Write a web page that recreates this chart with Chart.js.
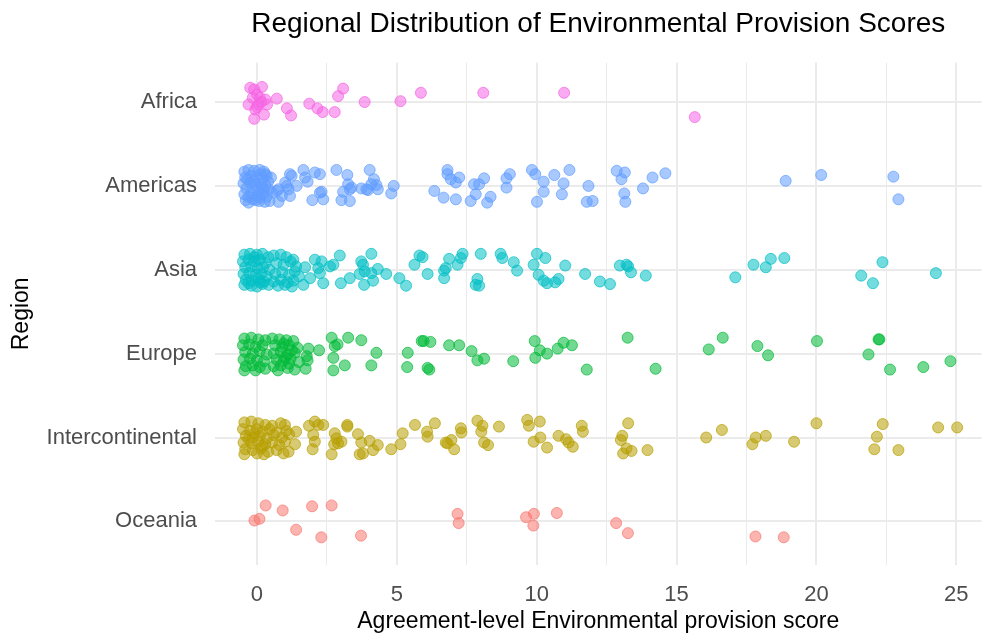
<!DOCTYPE html>
<html>
<head>
<meta charset="utf-8">
<script src="https://cdn.jsdelivr.net/npm/chart.js@4"></script>
<style>
  html, body { margin: 0; padding: 0; background: #fff; }
  #wrap { width: 988px; height: 637px; }
</style>
</head>
<body>
<div id="wrap"><canvas id="chart" width="988" height="637"></canvas></div>
<script>
// regions top to bottom, and their ggplot hue colours
const regions = ['Africa', 'Americas', 'Asia', 'Europe', 'Intercontinental', 'Oceania'];
const regionColors = ['#F564E3', '#619CFF', '#00BFC4', '#00BA38', '#B79F00', '#F8766D'];
const xTicks = [0, 5, 10, 15, 20, 25];

// [score, vertical jitter]
const africa = [[-0.24,0.17],[0.18,0.18],[-0.1,0.15],[0.0,0.09],[0.1,0.05],[0.3,0.03],[-0.3,-0.03],[-0.06,-0.09],
  [0.05,-0.03],[0.36,-0.03],[-0.1,-0.2],[0.25,-0.15],[0.0,-0.06],[0.15,0.0],[-0.15,0.05],[0.71,0.04],[1.07,-0.075],
  [1.22,-0.16],[1.87,-0.02],[2.16,-0.075],[2.35,-0.12],[2.78,-0.12],[2.9,0.07],[3.08,0.16],[3.85,0.0],[5.13,0.01],
  [5.86,0.11],[8.09,0.11],[10.98,0.11],[15.65,-0.18]];

const americas = [[-0.45,0.17],[-0.3,0.19],[-0.1,0.18],[0.1,0.19],[0.25,0.17],[0.35,0.12],[-0.42,0.1],[-0.2,0.12],
  [0.0,0.1],[0.2,0.08],[0.4,0.05],[-0.48,0.03],[-0.25,0.04],[-0.05,0.02],[0.15,0.01],[0.3,0.0],[-0.38,-0.03],
  [-0.15,-0.02],[0.05,-0.05],[0.25,-0.06],[0.42,-0.04],[-0.45,-0.1],[-0.22,-0.09],[0.0,-0.12],[0.18,-0.1],
  [0.35,-0.13],[-0.4,-0.17],[-0.15,-0.16],[0.08,-0.18],[0.28,-0.19],[-0.3,-0.2],[0.45,-0.18],[0.12,0.14],
  [-0.35,0.08],[0.5,0.1],[0.55,-0.08],[-0.1,0.06],[0.1,-0.14],[-0.3,-0.13],[0.3,0.14],[-0.05,-0.17],[0.2,-0.02],
  [0.71,-0.06],[0.77,-0.04],[0.89,-0.12],[0.77,-0.19],[1.01,0.04],[1.07,0.0],[1.13,-0.04],[1.18,-0.12],[1.18,0.14],
  [1.24,0.12],[1.42,0.0],[1.66,0.19],[1.72,0.1],[1.81,0.05],[2.07,0.16],[2.25,0.14],[1.98,-0.17],[2.25,-0.08],
  [2.31,-0.07],[2.37,-0.16],[2.84,0.19],[3.23,0.13],[3.26,0.02],[3.32,-0.04],[3.08,-0.07],[3.02,-0.17],[3.32,-0.18],
  [3.38,-0.02],[3.73,-0.03],[3.91,-0.04],[4.03,0.19],[4.18,0.08],[4.09,0.02],[4.27,0.01],[4.32,-0.04],[3.97,-0.05],
  [4.8,-0.09],[4.89,0.0],[6.34,-0.06],[6.67,-0.14],[6.81,0.19],[6.81,0.14],[6.93,0.08],[7.11,0.04],[7.23,0.1],
  [7.11,-0.16],[7.64,-0.18],[7.76,0.02],[7.94,0.02],[8.12,0.09],[7.82,-0.1],[8.23,-0.2],[8.35,-0.13],[8.92,-0.02],
  [8.92,0.09],[9.04,0.14],[9.83,0.19],[9.95,0.14],[10.25,0.05],[10.25,-0.07],[10.01,-0.19],[10.63,0.13],
  [10.96,0.03],[10.9,-0.1],[11.17,0.19],[11.85,0.0],[11.79,-0.19],[12.0,-0.18],
  [12.86,0.18],[13.15,0.16],[13.03,0.08],[13.13,-0.09],[13.17,-0.19],[13.8,-0.03],[14.14,0.1],[14.6,0.15],
  [18.9,0.06],[20.17,0.13],[22.75,0.11],[22.93,-0.16]];

const asia = [[-0.45,0.18],[-0.25,0.19],[0.0,0.18],[0.2,0.19],[0.4,0.15],[-0.5,0.1],[-0.3,0.12],[-0.1,0.1],
  [0.1,0.12],[0.3,0.08],[-0.42,0.03],[-0.2,0.04],[0.02,0.02],[0.22,0.03],[0.45,0.0],[-0.48,-0.05],[-0.28,-0.04],
  [-0.05,-0.06],[0.15,-0.05],[0.35,-0.08],[-0.4,-0.12],[-0.18,-0.13],[0.05,-0.11],[0.25,-0.14],[-0.45,-0.18],
  [-0.2,-0.19],[0.0,-0.2],[0.2,-0.17],[0.42,-0.18],[-0.1,0.15],[0.12,-0.15],[-0.3,-0.16],
  [0.6,0.17],[0.85,0.18],[1.05,0.15],[1.3,0.12],[0.7,0.08],[0.95,0.06],[1.2,0.1],[1.4,0.04],[0.65,-0.05],
  [0.9,-0.03],[1.15,-0.06],[1.35,-0.02],[0.6,-0.14],[0.85,-0.12],[1.1,-0.15],[1.3,-0.13],[0.75,-0.19],[1.0,-0.18],
  [1.25,-0.2],[1.5,-0.08],
  [1.72,0.03],[1.66,-0.18],[1.9,-0.1],[2.07,0.12],[2.19,0.02],[2.31,0.1],[2.25,-0.04],[2.37,-0.16],[2.61,0.04],
  [2.73,0.06],[2.96,0.17],[3.0,-0.16],[3.32,-0.1],[3.67,-0.05],[3.73,0.1],[3.79,0.06],[3.83,-0.18],[3.85,-0.02],
  [4.09,0.19],[4.09,-0.04],[4.15,-0.13],[4.32,0.01],[4.62,-0.05],[5.09,-0.1],[5.33,-0.19],[5.63,0.06],[5.81,0.17],
  [5.92,0.15],[6.1,-0.05],[6.69,-0.01],[6.69,-0.1],[6.75,0.02],[6.87,0.13],[7.17,0.06],[7.29,0.14],[7.35,0.19],
  [7.88,-0.11],[7.94,-0.19],[7.82,-0.18],[8.0,0.19],[8.71,0.19],[8.77,0.14],[9.18,0.09],[9.3,-0.01],[9.89,0.06],
  [10.01,0.19],[10.07,-0.06],[10.31,0.14],[10.25,-0.13],[10.37,-0.16],[10.66,-0.15],[10.78,-0.11],[11.02,0.05],
  [11.73,-0.05],[12.26,-0.14],[12.62,-0.17],
  [12.97,0.05],[13.21,0.06],[13.27,0.04],[13.37,-0.03],[13.9,-0.07],[17.1,-0.09],[17.75,0.06],[18.19,0.03],
  [18.37,0.13],[18.85,0.14],[21.6,-0.07],[22.02,-0.16],[22.36,0.09],[24.27,-0.04]];

const europe = [[-0.45,0.18],[-0.2,0.19],[0.05,0.17],[0.3,0.16],[-0.5,0.1],[-0.28,0.11],[-0.05,0.08],[0.2,0.1],
  [-0.42,0.02],[-0.15,0.0],[0.1,0.03],[0.35,-0.01],[-0.48,-0.07],[-0.25,-0.06],[0.0,-0.08],[0.25,-0.09],
  [-0.4,-0.15],[-0.15,-0.14],[0.1,-0.16],[0.3,-0.18],[-0.45,-0.2],[-0.05,-0.2],
  [0.55,0.18],[0.8,0.17],[1.05,0.16],[1.3,0.15],[0.65,0.1],[0.9,0.08],[1.15,0.1],[1.45,0.07],[0.6,0.0],
  [0.85,0.02],[1.1,-0.01],[1.35,0.01],[0.7,-0.07],[0.95,-0.08],[1.2,-0.06],[1.5,-0.1],[0.6,-0.15],[0.85,-0.14],
  [1.1,-0.17],[1.35,-0.19],[0.75,-0.2],[1.0,-0.05],[1.25,0.04],[0.95,0.12],[1.15,-0.12],
  [1.78,-0.03],[1.84,0.06],[1.81,-0.08],[1.74,-0.18],[2.22,0.04],[2.67,0.19],[2.78,0.09],[2.88,0.11],[2.73,-0.05],
  [2.73,-0.2],[3.14,-0.14],[3.26,0.19],[3.73,0.16],[4.27,0.01],[4.09,-0.14],[5.39,0.01],[5.37,-0.16],[5.89,0.15],
  [5.96,0.15],[6.2,0.14],[6.1,-0.17],[6.16,-0.19],[6.87,0.1],[7.23,0.1],[7.67,0.03],[7.88,-0.08],[8.12,-0.06],
  [9.16,-0.09],[9.93,0.15],[10.11,0.04],[9.95,-0.05],[10.37,0.0],[10.75,0.06],[10.96,0.13],[11.26,0.1],[11.79,-0.19],
  [13.25,0.19],[14.25,-0.18],[16.15,0.05],[16.65,0.19],[17.89,0.09],[18.27,-0.02],[20.02,0.15],[22.22,0.17],
  [22.25,0.17],[21.86,-0.01],[22.63,-0.19],[23.82,-0.16],[24.79,-0.09]];

const intercontinental = [[-0.45,0.18],[-0.2,0.19],[0.05,0.17],[0.3,0.15],[0.55,0.14],[0.85,0.17],[1.0,0.15],
  [-0.5,0.1],[-0.25,0.08],[0.0,0.1],[0.2,0.07],[0.45,0.1],[0.7,0.06],[1.05,0.08],[-0.4,0.02],[-0.15,0.0],
  [0.1,0.02],[0.35,-0.01],[0.6,0.03],[0.9,0.0],[1.15,0.04],[-0.48,-0.06],[-0.2,-0.07],[0.05,-0.05],[0.3,-0.08],
  [0.55,-0.06],[0.8,-0.09],[1.0,-0.05],[-0.42,-0.14],[-0.15,-0.15],[0.15,-0.13],[0.4,-0.17],[0.7,-0.15],
  [-0.45,-0.2],[0.0,-0.19],[0.25,-0.2],[0.95,-0.19],[-0.1,0.05],[0.2,-0.1],[-0.3,-0.02],
  [1.4,0.07],[1.36,-0.08],[1.13,-0.17],[1.86,0.14],[2.07,0.19],[2.19,0.15],[2.37,0.15],[2.01,0.03],[2.07,-0.05],
  [1.99,-0.14],[2.67,-0.2],[2.78,0.05],[2.84,-0.01],[2.9,-0.07],[3.02,-0.05],[2.76,-0.08],[3.23,0.15],[3.23,0.13],
  [3.61,0.04],[3.73,-0.06],[3.79,-0.19],[3.67,-0.2],[4.03,-0.04],[4.15,-0.15],[4.32,-0.09],[4.8,-0.14],[5.13,-0.08],
  [5.21,0.05],[5.65,0.15],[6.08,0.07],[6.1,0.01],[6.36,0.17],[6.75,-0.06],[6.81,-0.07],[6.95,-0.03],[7.05,-0.14],
  [7.29,0.11],[7.31,0.06],[7.88,0.2],[8.06,0.14],[8.02,0.07],[8.12,-0.06],[8.26,-0.09],[8.65,0.13],[9.66,0.21],
  [9.72,0.14],[10.11,0.19],[9.89,-0.05],[10.13,0.0],[10.37,-0.12],[10.78,0.02],[11.05,-0.02],[11.14,-0.06],
  [11.29,-0.11],[11.61,0.14],[11.65,0.07],
  [13.27,0.17],[13.06,0.02],[13.01,-0.03],[13.21,-0.13],[13.39,-0.16],[13.09,-0.19],[13.96,-0.15],[16.06,0.0],
  [16.62,0.09],[17.71,-0.08],[17.83,0.0],[18.19,0.02],[19.2,-0.05],[20.0,0.17],[22.37,0.16],[22.16,0.01],
  [22.07,-0.14],[22.93,-0.15],[24.35,0.12],[25.03,0.12]];

const oceania = [[-0.09,0.01],[0.09,0.03],[0.31,0.19],[0.92,0.13],[1.4,-0.1],[1.97,0.18],[2.3,-0.19],[2.67,0.19],
  [3.72,-0.17],[7.17,0.09],[7.21,-0.02],[9.62,0.05],[9.9,0.09],[9.88,-0.05],[10.72,0.1],[12.84,-0.02],[13.26,-0.14],
  [17.82,-0.18],[18.83,-0.19]];

const regionPoints = [africa, americas, asia, europe, intercontinental, oceania];

// hex -> rgba
function fade(hex, a) {
  const n = parseInt(hex.slice(1), 16);
  return 'rgba(' + (n >> 16) + ',' + ((n >> 8) & 255) + ',' + (n & 255) + ',' + a + ')';
}

// Africa sits on top, so it gets the highest y position
const datasets = regions.map((name, i) => {
  const pos = regions.length - i;
  return {
    label: name,
    data: regionPoints[i].map(p => ({ x: p[0], y: pos + p[1] })),
    backgroundColor: fade(regionColors[i], 0.55),
    borderColor: fade(regionColors[i], 0.7),
    borderWidth: 1,
    pointRadius: 5.5,
    pointHoverRadius: 5.5
  };
});

const font = "'Liberation Sans', Arial, sans-serif";
const gridColor = '#EBEBEB';

new Chart(document.getElementById('chart'), {
  type: 'scatter',
  data: { datasets: datasets },
  options: {
    responsive: false,
    animation: false,
    layout: { padding: { top: 0, right: 3, bottom: 0, left: 8 } },
    plugins: {
      legend: { display: false },
      tooltip: { enabled: false },
      title: {
        display: true,
        fullSize: false,
        text: 'Regional Distribution of Environmental Provision Scores',
        color: '#000',
        font: { family: font, size: 28, weight: 'normal' },
        padding: { top: 7, bottom: 22 }
      }
    },
    scales: {
      x: {
        type: 'linear',
        min: -1.5,
        max: 25.9,
        afterFit: s => { s.height = 72; },
        border: { display: false },
        grid: {
          color: gridColor,
          drawTicks: false,
          lineWidth: ctx => (xTicks.includes(ctx.tick.value) ? 2 : 1)
        },
        ticks: {
          stepSize: 2.5,
          includeBounds: false,
          autoSkip: false,
          maxRotation: 0,
          padding: 17,
          color: '#4D4D4D',
          font: { family: font, size: 22 },
          callback: v => (xTicks.includes(v) ? String(v) : '')
        },
        title: {
          display: true,
          text: 'Agreement-level Environmental provision score',
          color: '#000',
          font: { family: font, size: 23 },
          padding: { top: 0, bottom: 2 }
        }
      },
      y: {
        type: 'linear',
        min: 0.48,
        max: 6.47,
        afterFit: s => { s.width = 207; },
        border: { display: false },
        grid: { color: gridColor, lineWidth: 2, drawTicks: false },
        ticks: {
          stepSize: 1,
          includeBounds: false,
          autoSkip: false,
          padding: 18,
          color: '#4D4D4D',
          font: { family: font, size: 22 },
          callback: v => regions[regions.length - v] || ''
        },
        title: {
          display: true,
          text: 'Region',
          color: '#000',
          font: { family: font, size: 23 },
          padding: { top: 0, bottom: 0 }
        }
      }
    }
  }
});
</script>
</body>
</html>
